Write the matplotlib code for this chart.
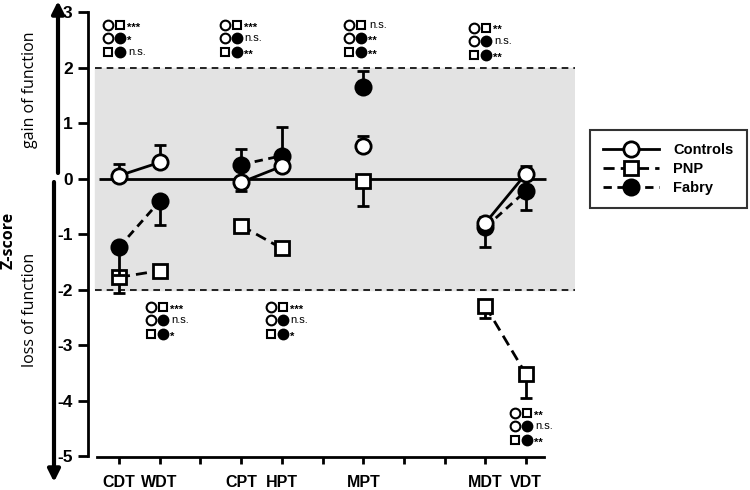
import numpy as np
import pandas as pd
import matplotlib
matplotlib.use('Agg')
import matplotlib.pyplot as plt

plt.rcParams['font.family'] = ['Liberation Sans', 'DejaVu Sans']

# test names and their slot on the x axis (gaps between test groups)
tests = ['CDT', 'WDT', 'CPT', 'HPT', 'MPT', 'MDT', 'VDT']
slots = [0, 1, 3, 4, 6, 9, 10]

# mean z-scores
controls = [0.05, 0.29, -0.07, 0.22, 0.58, -0.80, 0.09]
pnp = [-1.78, -1.66, -0.85, -1.26, -0.05, -2.30, -3.53]
fabry = [-1.24, -0.41, 0.25, 0.41, 1.64, -0.88, -0.22]

# one-sided error bars (lower, upper)
controls_err_lo = [0, 0, 0.16, 0, 0, 0, 0]
controls_err_hi = [0.22, 0.32, 0, 0.05, 0.19, 0.1, 0.14]
pnp_err_lo = [0.29, 0.05, 0, 0.08, 0.45, 0.22, 0.42]
pnp_err_hi = [0, 0, 0, 0, 0, 0, 0]
fabry_err_lo = [0.5, 0.42, 0, 0, 0, 0.36, 0.34]
fabry_err_hi = [0, 0, 0.29, 0.51, 0.29, 0, 0]

# significance blocks: (anchor slot, anchor z, [row1, row2, row3])
sig_blocks = [
    (-0.27, 2.77, ['***', '*', 'n.s.']),
    (2.60, 2.77, ['***', 'n.s.', '**']),
    (5.65, 2.77, ['n.s.', '**', '**']),
    (8.72, 2.72, ['**', 'n.s.', '**']),
    (0.79, -2.31, ['***', 'n.s.', '*']),
    (3.73, -2.31, ['***', 'n.s.', '*']),
    (9.73, -4.22, ['**', 'n.s.', '**']),
]


def full(vals):
    # spread onto all 11 slots, NaN breaks the connecting lines
    return pd.Series(vals, index=slots).reindex(range(11)).values


fig = plt.figure(figsize=(7.5, 4.9), dpi=100)
ax = fig.add_axes([88 / 750, 34 / 490, (575 - 88) / 750, 444 / 490])
ax.set_xlim(-0.76, 11.2)
ax.set_ylim(-5.0, 3.0)

# normal range band and reference lines
ax.axhspan(-2, 2, xmin=0.015, color='#e3e3e3', zorder=0)
ax.axhline(2, xmin=0.015, color='black', lw=1.2, ls=(0, (4, 3)), zorder=1)
ax.axhline(-2, xmin=0.015, color='black', lw=1.2, ls=(0, (4, 3)), zorder=1)
ax.hlines(0, -0.5, 10.5, color='black', lw=2, zorder=1)

x = np.arange(11)
series = [
    ('PNP', pnp, pnp_err_lo, pnp_err_hi, 's', 'white', (0, (4, 2.2)), 10),
    ('Fabry', fabry, fabry_err_lo, fabry_err_hi, 'o', 'black', (0, (3, 2)), 11),
    ('Controls', controls, controls_err_lo, controls_err_hi, 'o', 'white', '-', 11),
]
handles = {}
for z, (name, vals, lo, hi, mk, fc, ls, ms) in enumerate(series):
    ax.errorbar(x, full(vals), yerr=[full(lo), full(hi)], fmt='none',
                ecolor='black', elinewidth=2, capsize=4, capthick=2, zorder=2 + z)
    h, = ax.plot(x, full(vals), color='black', lw=2, ls=ls, marker=mk, ms=ms,
                 mfc=fc, mec='black', mew=2, zorder=3 + z)
    handles[name] = h

# significance markers
dx, dy = 0.30, 0.245
pairs = [(('o', 'white'), ('s', 'white')),
         (('o', 'white'), ('o', 'black')),
         (('s', 'white'), ('o', 'black'))]
for x0, y0, labels in sig_blocks:
    for i, (lab, (a, b)) in enumerate(zip(labels, pairs)):
        yy = y0 - i * dy
        ax.plot(x0, yy, marker=a[0], ms=7 if a[0] == 'o' else 6.3, mfc=a[1],
                mec='black', mew=1.5, ls='none', zorder=6)
        ax.plot(x0 + dx, yy, marker=b[0], ms=7 if b[0] == 'o' else 6.3, mfc=b[1],
                mec='black', mew=1.5, ls='none', zorder=6)
        if '*' in lab:
            ax.text(x0 + dx + 0.17, yy - 0.05, lab, fontsize=8, fontweight='bold',
                    va='center', ha='left')
        else:
            ax.text(x0 + dx + 0.19, yy, lab, fontsize=8, va='center', ha='left')

# axes styling
for side in ['top', 'right']:
    ax.spines[side].set_visible(False)
ax.spines['left'].set_linewidth(2)
ax.spines['left'].set_bounds(-5, 3)
ax.spines['bottom'].set_linewidth(2)
ax.spines['bottom'].set_bounds(-0.55, 10.45)
ax.spines['bottom'].set_position(('data', -5.02))

ax.set_yticks(range(-5, 4))
ax.set_yticklabels([str(v) for v in range(-5, 4)], fontsize=12.5, fontweight='bold')
ax.set_xticks(range(11))
xlabels = [''] * 11
for s, t in zip(slots, tests):
    xlabels[s] = t
ax.set_xticklabels(xlabels, fontsize=11.5, fontweight='bold')
ax.tick_params(axis='y', length=7, width=2, pad=4)
ax.tick_params(axis='x', length=5, width=2, pad=8)

# gain / loss arrows on the left
ax.annotate('', xy=(58, 489), xytext=(58, 317), xycoords='figure pixels',
            textcoords='figure pixels',
            arrowprops=dict(arrowstyle='-|>', lw=3, color='black',
                            mutation_scale=18, shrinkA=0, shrinkB=0))
ax.annotate('', xy=(54, 8), xytext=(54, 308), xycoords='figure pixels',
            textcoords='figure pixels',
            arrowprops=dict(arrowstyle='-|>', lw=3, color='black',
                            mutation_scale=18, shrinkA=0, shrinkB=0))
fig.text(30 / 750, 400 / 490, 'gain of function', rotation=90, fontsize=11.5,
         ha='center', va='center', family='Open Sans')
fig.text(30 / 750, 180 / 490, 'loss of function', rotation=90, fontsize=11.5,
         ha='center', va='center', family='Open Sans')
fig.text(9 / 750, 250 / 490, 'Z-score', rotation=90, fontsize=11.5,
         fontweight='bold', ha='center', va='center', family='Open Sans')

# legend outside the plot
leg = fig.legend([handles['Controls'], handles['PNP'], handles['Fabry']],
                 ['Controls', 'PNP', 'Fabry'], loc='upper left',
                 bbox_to_anchor=(590 / 750, 1 - 130 / 490), handlelength=3.8,
                 fontsize=10.5, frameon=True, fancybox=False, borderpad=0.9,
                 labelspacing=0.35, handletextpad=1.0, borderaxespad=0)
leg.get_frame().set_edgecolor('black')
leg.get_frame().set_linewidth(1.5)
for t in leg.get_texts():
    t.set_fontweight('bold')

plt.savefig('out.png', dpi=100)
